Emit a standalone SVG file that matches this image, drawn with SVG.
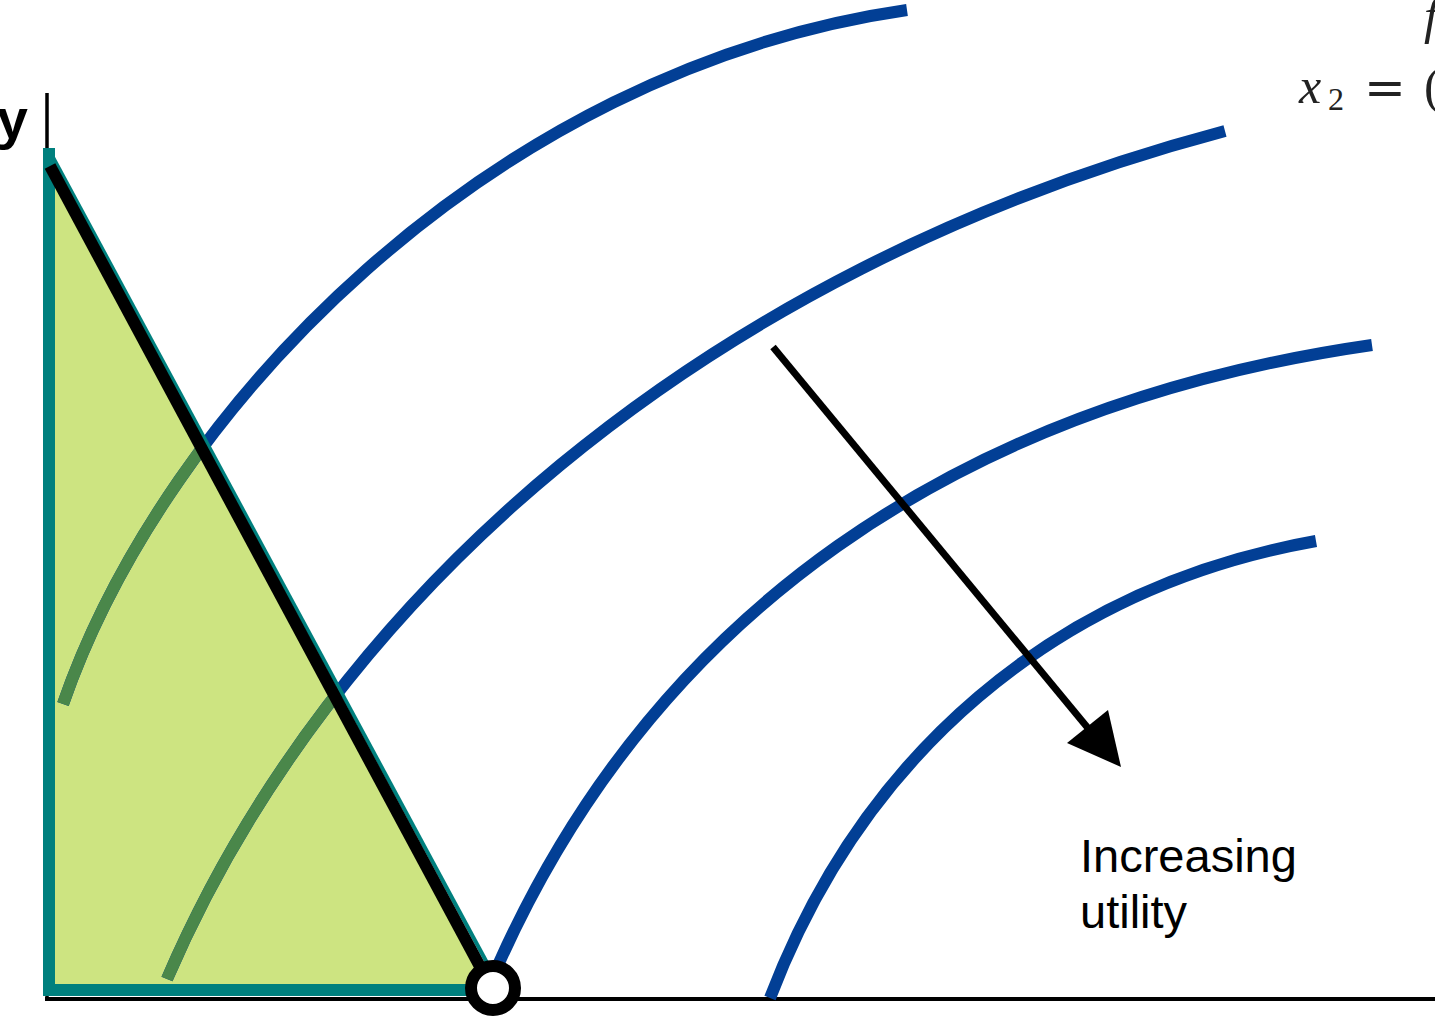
<svg xmlns="http://www.w3.org/2000/svg" width="1435" height="1016" viewBox="0 0 1435 1016">
<style>
.curve{fill:none;stroke:#023f95;stroke-width:12}
.curve-in{fill:none;stroke:#4a874a;stroke-width:12}
.teal{fill:none;stroke:#00807e;stroke-width:12;stroke-linecap:square}
.lbl{font-family:"Liberation Sans",Arial,sans-serif;fill:#000}
.math{font-family:"Liberation Serif","Times New Roman",serif;fill:#222}
</style>
<defs>
<clipPath id="tri"><path d="M49,150 L49,990 L490,990 Z"/></clipPath>
<path id="c1" d="M63,704 C165,410 490,70 907,10"/>
<path id="c2" d="M167,979 C330,600 700,270 1225,131"/>
<path id="c3" d="M499,963 C655,615 955,405 1372,345"/>
<path id="c4" d="M770,998 C862,757 1052,588 1316,541"/>
</defs>
<rect width="1435" height="1016" fill="#fff"/>
<g id="axes">
<line x1="47" y1="93" x2="47" y2="999" stroke="#000" stroke-width="3.5"/>
<line x1="45" y1="999" x2="1435" y2="999" stroke="#000" stroke-width="4"/>
</g>
<g id="feasible-set">
<path d="M49,150 L49,990 L490,990 Z" fill="#cde481"/>
</g>
<g id="indifference-curves">
<use href="#c1" class="curve"/>
<use href="#c2" class="curve"/>
<use href="#c3" class="curve"/>
<use href="#c4" class="curve"/>
<g clip-path="url(#tri)">
<use href="#c1" class="curve-in"/>
<use href="#c2" class="curve-in"/>
</g>
</g>
<g id="feasible-edges">
<path d="M49,154 L49,990 L484,990" class="teal"/>
<line x1="49" y1="150" x2="492" y2="972" stroke="#00807e" stroke-width="4"/>
</g>
<g id="budget-line">
<line x1="50" y1="166" x2="484" y2="974" stroke="#000" stroke-width="12"/>
</g>
<g id="optimum">
<circle cx="493" cy="988" r="22" fill="#fff" stroke="#000" stroke-width="12"/>
</g>
<g id="connectors">
<line x1="773" y1="347" x2="1092" y2="733" stroke="#000" stroke-width="7"/>
<polygon points="1121,767 1067,743 1108,710" fill="#000"/>
</g>
<g id="labels">
<text class="lbl" x="28" y="138" font-size="56" font-weight="bold" text-anchor="end">y</text>
<text class="lbl" x="1080" y="872" font-size="47">Increasing</text>
<text class="lbl" x="1080" y="928" font-size="47">utility</text>
<text class="math" x="1299" y="103" font-size="50" font-style="italic">x</text>
<text class="math" x="1328" y="110" font-size="32">2</text>
<text x="1364" y="105" font-size="50" font-family="'DejaVu Serif',serif" fill="#222">=</text>
<text class="math" x="1424" y="103" font-size="50">(</text>
<text class="math" x="1424" y="33" font-size="50" font-style="italic">f</text>
</g>
</svg>
